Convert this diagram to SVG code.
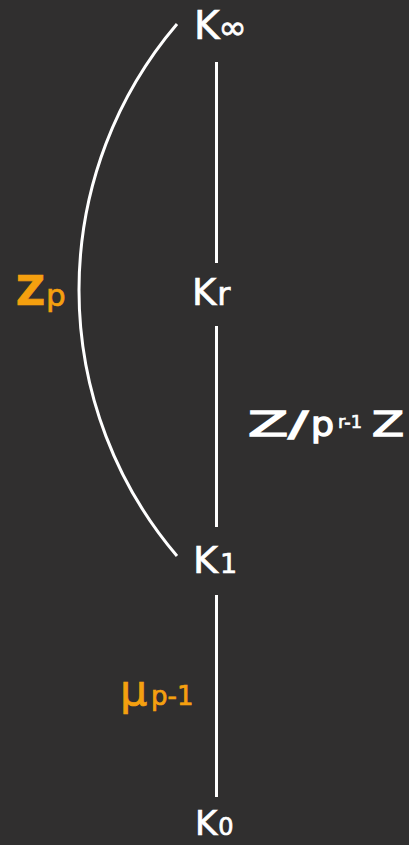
<svg xmlns="http://www.w3.org/2000/svg" width="409" height="845" viewBox="0 0 409 845">
<style>
text{font-family:"DejaVu Sans","Open Sans",sans-serif;fill:#ffffff;stroke:#ffffff;stroke-width:0.7}
.o{fill:#f5a00f;stroke:#f5a00f}
.b{stroke-width:1.4}
.ln{stroke:#ffffff;stroke-width:3;fill:none;stroke-linecap:butt}
</style>
<rect width="409" height="845" fill="#302f2f"/>
<g id="connectors">
<line class="ln" x1="216.5" y1="62" x2="216.5" y2="263"/>
<line class="ln" x1="216.5" y1="326" x2="216.5" y2="527"/>
<line class="ln" x1="216.5" y1="595" x2="216.5" y2="797"/>
<path class="ln" d="M177,24 A410,410 0 0 0 177,556"/>
</g>
<g id="kinf"><text x="194" y="39" font-size="39">K<tspan font-size="34" dx="-1">∞</tspan></text></g>
<g id="kr"><text x="192" y="305" font-size="37">K<tspan font-size="32" dx="1">r</tspan></text></g>
<g id="k1"><text x="193" y="573" font-size="38">K<tspan font-size="27" dx="2">1</tspan></text></g>
<g id="k0"><text x="195" y="835" font-size="34">K<tspan font-size="24" dx="1">0</tspan></text></g>
<g id="zp"><text class="o" x="16" y="305" font-size="40" font-weight="bold">Z</text><text class="o" x="46" y="306" font-size="31">p</text></g>
<g id="mu"><text class="o" x="120" y="705" font-size="43">μ</text><text class="o" x="151" y="705" font-size="26">p-1</text></g>
<g id="zmod">
<text class="b" x="248" y="436" font-size="34" textLength="60" lengthAdjust="spacingAndGlyphs">Z/</text>
<text class="b" x="311" y="436" font-size="34" textLength="23" lengthAdjust="spacingAndGlyphs">p</text>
<text x="338" y="428" font-size="18" textLength="24" lengthAdjust="spacingAndGlyphs">r-1</text>
<text class="b" x="372" y="436" font-size="34" textLength="32" lengthAdjust="spacingAndGlyphs">Z</text>
</g>
</svg>
